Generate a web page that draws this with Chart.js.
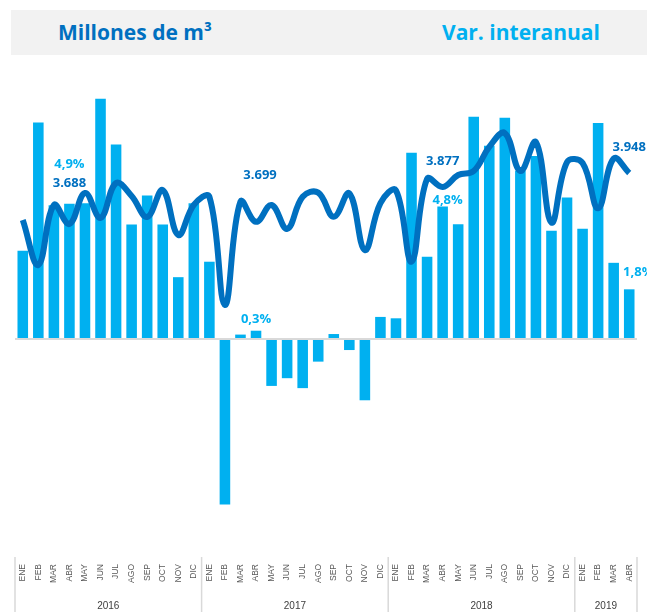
<!DOCTYPE html>
<html>
<head>
<meta charset="utf-8">
<script src="https://cdn.jsdelivr.net/npm/chart.js@4.4.1/dist/chart.umd.min.js"></script>
<style>
  body { margin: 0; background: #fff; }
  #wrap { position: relative; width: 647px; height: 612px; }
  #band { position: absolute; left: 11px; top: 10px; width: 636px; height: 45px; background: #f2f2f2; }
  .ttl { position: absolute; top: 0; font: bold 21px "Open Sans", sans-serif; line-height: 45px; white-space: nowrap; }
  #t1 { left: 47px; color: #0070c0; }
  #t2 { left: 431px; color: #00b0f0; }
  canvas { position: absolute; left: 0; top: 0; }
</style>
</head>
<body>
<div id="wrap">
  <canvas id="myChart" width="647" height="612"></canvas>
  <div id="band"><span class="ttl" id="t1">Millones de m³</span><span class="ttl" id="t2">Var. interanual</span></div>
</div>
<script>
const months = ['ENE', 'FEB', 'MAR', 'ABR', 'MAY', 'JUN', 'JUL', 'AGO', 'SEP', 'OCT', 'NOV', 'DIC'];
const categories = [...months, ...months, ...months, 'ENE', 'FEB', 'MAR', 'ABR'];
const years = ['2016', '2017', '2018', '2019'];
const yearLengths = [12, 12, 12, 4];

// Millones de m3
const volume = [
    3708, 3479, 3785, 3688, 3846, 3719, 3897, 3831, 3724, 3861, 3632, 3785,
    3827, 3275, 3802, 3699, 3785, 3663, 3827, 3848, 3725, 3845, 3555, 3795,
    3859, 3496, 3918, 3877, 3938, 3958, 4081, 4152, 3958, 4106, 3695, 4004,
    3999, 3768, 4022, 3948
];

// Var. interanual (%)
const variation = [
    3.2, 7.84, 4.85, 4.9, 4.92, 8.7, 7.05, 4.15, 5.2, 4.15, 2.24, 4.92,
    2.8, -6.0, 0.16, 0.3, -1.7, -1.42, -1.78, -0.82, 0.18, -0.4, -2.22, 0.8,
    0.75, 6.75, 2.98, 4.8, 4.16, 8.05, 7.0, 8.02, 6.1, 6.63, 3.92, 5.13,
    3.99, 7.83, 2.76, 1.8
];

// indexes that carry value labels (every ABR)
const labelled = [3, 15, 27, 39];

const darkBlue = '#0070c0';
const lightBlue = '#00b0f0';

function fmtVar(v) { return v.toFixed(1).replace('.', ',') + '%'; }
function fmtVol(v) { return String(v).replace(/\B(?=(\d{3})+(?!\d))/g, '.'); }

const yearAxis = {
    id: 'yearAxis',
    afterDraw(chart) {
        const c = chart.ctx;
        const x = chart.scales.x;
        const step = x.getPixelForValue(1) - x.getPixelForValue(0);
        c.save();
        c.strokeStyle = '#d9d9d9';
        c.lineWidth = 1.5;
        c.fillStyle = '#404040';
        c.font = '10px "Liberation Sans", Arial, sans-serif';
        c.textAlign = 'center';
        c.textBaseline = 'middle';
        let i = 0;
        let right = 0;
        years.forEach((yr, k) => {
            const left = x.getPixelForValue(i) - step / 2;
            right = x.getPixelForValue(i + yearLengths[k] - 1) + step / 2;
            c.beginPath();
            c.moveTo(left, 557);
            c.lineTo(left, 612);
            c.stroke();
            c.fillText(yr, (left + right) / 2, 606);
            i += yearLengths[k];
        });
        c.beginPath();
        c.moveTo(right, 557);
        c.lineTo(right, 612);
        c.stroke();
        c.restore();
    }
};

const valueLabels = {
    id: 'valueLabels',
    afterDatasetsDraw(chart) {
        const c = chart.ctx;
        const lineMeta = chart.getDatasetMeta(0);
        const barMeta = chart.getDatasetMeta(1);
        const varOffsets = [[0, -39], [0, -11], [5, -6], [9, -17]];
        const volOffsets = [[0, -41], [4, -47], [0, -26], [0, -26]];
        c.save();
        c.font = 'bold 13px "Open Sans", sans-serif';
        c.textAlign = 'center';
        c.textBaseline = 'middle';
        labelled.forEach((idx, k) => {
            const bar = barMeta.data[idx];
            const pt = lineMeta.data[idx];
            c.fillStyle = lightBlue;
            c.fillText(fmtVar(variation[idx]), bar.x + varOffsets[k][0], Math.min(bar.y, bar.base) + varOffsets[k][1]);
            c.fillStyle = darkBlue;
            c.fillText(fmtVol(volume[idx]), pt.x + volOffsets[k][0], pt.y + volOffsets[k][1]);
        });
        c.restore();
    }
};

const ctx = document.getElementById('myChart');
const myChart = new Chart(ctx, {
    data: {
        labels: categories,
        datasets: [{
            type: 'line',
            label: 'Millones de m³',
            data: volume,
            yAxisID: 'y2',
            borderColor: darkBlue,
            borderWidth: 6,
            tension: 0.4,
            pointRadius: 0,
            order: 0
        }, {
            type: 'bar',
            label: 'Var. interanual',
            data: variation,
            yAxisID: 'y1',
            backgroundColor: lightBlue,
            categoryPercentage: 1,
            barPercentage: 0.68,
            order: 1
        }]
    },
    options: {
        responsive: false,
        animation: false,
        layout: { padding: { left: 15, right: 10, top: 70, bottom: 0 } },
        plugins: {
            legend: { display: false },
            tooltip: { enabled: false }
        },
        scales: {
            x: {
                grid: { display: false },
                border: { display: false },
                ticks: {
                    autoSkip: false,
                    minRotation: 90,
                    maxRotation: 90,
                    padding: 4,
                    color: '#595959',
                    font: { family: '"Liberation Sans", Arial, sans-serif', size: 8.5 }
                },
                afterFit(scale) { scale.height = 60; }
            },
            y1: {
                position: 'left',
                min: -7.717,
                max: 9.746,
                ticks: { display: false, stepSize: 1 },
                border: { display: false },
                grid: {
                    drawTicks: false,
                    lineWidth: 2,
                    color: (c) => c.tick && c.tick.value === 0 ? '#d9d9d9' : 'rgba(0,0,0,0)'
                },
                afterFit(scale) { scale.width = 0; }
            },
            y2: {
                display: false,
                min: 2015.2,
                max: 4473.4
            }
        }
    },
    plugins: [yearAxis, valueLabels]
});
</script>
</body>
</html>
